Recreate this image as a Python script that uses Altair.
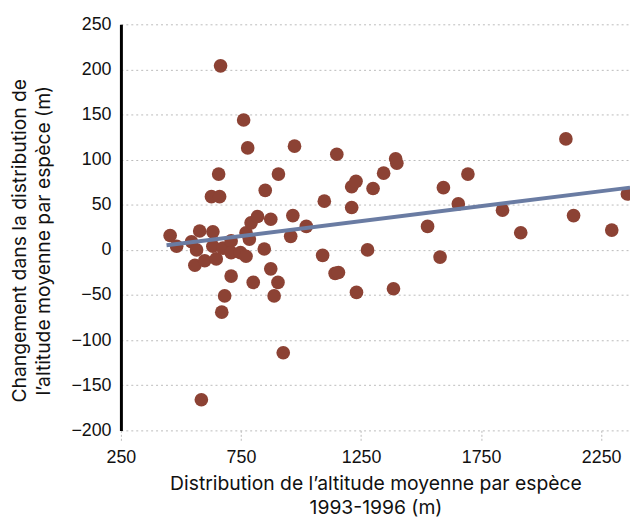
import altair as alt
import pandas as pd

x_alt = [455, 482, 544, 565, 578, 558, 599, 585, 633, 633, 647, 627, 661, 657, 665,
         675, 670, 682, 709, 709, 709, 748, 771, 771, 785, 792, 819, 761, 778, 851,
         847, 874, 874, 888, 904, 801, 906, 926, 957, 966, 973, 1022, 1090, 1097, 1142,
         1156, 1149, 1211, 1211, 1229, 1231, 1277, 1300, 1344, 1385, 1394, 1399, 1527,
         1579, 1593, 1655, 1695, 1839, 1915, 2103, 2135, 2294, 2359]
y_change = [16, 4, 9, 0, 21, -17, -12, -166, 20, 4, -10, 59, 59, 84, 204,
            2, -69, -51, 10, -3, -29, -3, -7, 19, 12, 30, 37, 144, 113, 66,
            1, 34, -21, -51, -36, -36, 84, -114, 15, 38, 115, 26, -6, 54, -26,
            -25, 106, 47, 70, 76, -47, 0, 68, 85, -43, 101, 96, 26,
            -8, 69, 51, 84, 44, 19, 123, 38, 22, 62]

x_ticks = [250, 750, 1250, 1750, 2250]
y_ticks = [-200, -150, -100, -50, 0, 50, 100, 150, 200, 250]

df = pd.DataFrame({"x": x_alt, "y": y_change})

TITLE_FONT = "Inter"
LABEL_FONT = "Liberation Sans"

xenc = alt.X("x:Q",
             scale=alt.Scale(domain=[250, 2370], nice=False, zero=False),
             axis=alt.Axis(values=x_ticks, format="d", domain=False, grid=False,
                           ticks=True, tickSize=10, tickColor="#bbbbbb", tickDash=[2, 2],
                           tickWidth=1, labelPadding=8, labelFontSize=18, labelFlush=False,
                           labelColor="#111111", labelFont=LABEL_FONT,
                           title=["Distribution de l’altitude moyenne par espèce", "1993-1996 (m)"],
                           titleFontSize=19.5, titleFontWeight="normal", titleFont=TITLE_FONT,
                           titleColor="#111111", titleLineHeight=24, titlePadding=9))
yenc = alt.Y("y:Q",
             scale=alt.Scale(domain=[-200, 250], nice=False),
             axis=alt.Axis(values=y_ticks, domain=True, domainColor="#000000", domainWidth=3,
                           ticks=False, grid=True, gridColor="#bbbbbb", gridDash=[2, 3],
                           gridWidth=1, labelPadding=10, labelFontSize=18,
                           labelColor="#111111", labelFont=LABEL_FONT,
                           title=["Changement dans la distribution de",
                                  "l’altitude moyenne par espèce (m)"],
                           titleFontSize=19.5, titleFontWeight="normal", titleFont=TITLE_FONT,
                           titleColor="#111111", titleLineHeight=24, titlePadding=18,
                           titleY=218))

points = alt.Chart(df).mark_circle(size=190, color="#8c4234", opacity=1, clip=True).encode(
    x=xenc, y=yenc)

line = alt.Chart(df).transform_regression(
    "x", "y", extent=[440, 2370]
).mark_line(color="#6a7ca3", strokeWidth=4, clip=True).encode(x="x:Q", y="y:Q")

chart = alt.layer(points, line).properties(
    width=514, height=410,
    autosize=alt.AutoSizeParams(type="none"),
    padding={"left": 114, "top": 14, "right": 0, "bottom": 86},
).configure_view(stroke=None)

chart.save("out.html", embed_options={"renderer": "svg", "actions": False})
